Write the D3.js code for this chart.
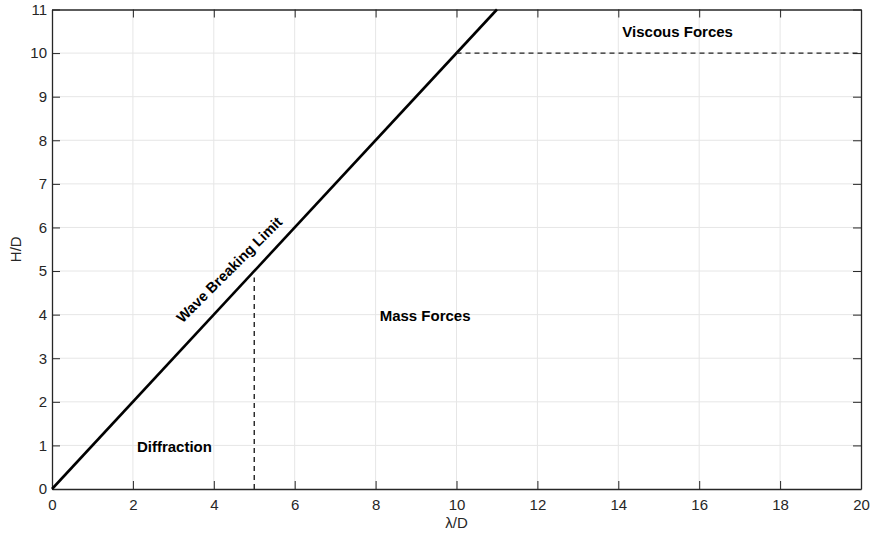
<!DOCTYPE html>
<html>
<head>
<meta charset="utf-8">
<script src="https://cdn.jsdelivr.net/npm/d3@7"></script>
<style>
  body { margin: 0; background: #fff; }
  svg { font-family: "Liberation Sans", Arial, sans-serif; }
</style>
</head>
<body>
<svg width="870" height="536"></svg>
<script>
// regions of wave force regimes (H/D vs lambda/D)
const breakingLine = [[0, 0], [11, 11]];
const diffractionLimit = [[5, 0], [5, 4.85]];
const viscousLimit = [[10, 10], [20, 10]];
const xTicks = [0, 2, 4, 6, 8, 10, 12, 14, 16, 18, 20];
const yTicks = [0, 1, 2, 3, 4, 5, 6, 7, 8, 9, 10, 11];
const regionLabels = [
  { text: "Viscous Forces", x: 14.1, y: 10.48 },
  { text: "Mass Forces", x: 8.1, y: 3.97 },
  { text: "Diffraction", x: 2.1, y: 0.98 }
];
const lineLabel = { text: "Wave Breaking Limit", x: 4.47, y: 4.95 };

const svg = d3.select("svg");
const margin = { left: 52, right: 9, top: 9.5, bottom: 47 };
const width = 870 - margin.left - margin.right,
  height = 536 - margin.top - margin.bottom;
const axisColor = "#262626";

const x = d3.scaleLinear().domain([0, 20]).range([0, width]);
const y = d3.scaleLinear().domain([0, 11]).range([height, 0]);

const g = svg.append("g").attr("transform", `translate(${margin.left},${margin.top})`);

// grid
g.append("g").selectAll("line").data(xTicks.slice(1, -1)).enter().append("line")
  .attr("x1", d => x(d)).attr("x2", d => x(d))
  .attr("y1", 0).attr("y2", height)
  .attr("stroke", "#e6e6e6").attr("stroke-width", 1);
g.append("g").selectAll("line").data(yTicks.slice(1, -1)).enter().append("line")
  .attr("y1", d => y(d)).attr("y2", d => y(d))
  .attr("x1", 0).attr("x2", width)
  .attr("stroke", "#e6e6e6").attr("stroke-width", 1);

// axes, ticks inside on all four sides
function styleAxis(sel) {
  sel.selectAll("path").attr("stroke", axisColor);
  sel.selectAll("line").attr("stroke", axisColor);
  sel.selectAll("text").attr("fill", axisColor).attr("font-size", 15);
}
g.append("g").attr("transform", `translate(0,${height})`)
  .call(d3.axisBottom(x).tickValues(xTicks).tickSizeInner(-8).tickSizeOuter(0).tickPadding(10))
  .call(styleAxis);
g.append("g")
  .call(d3.axisLeft(y).tickValues(yTicks).tickSizeInner(-8).tickSizeOuter(0).tickPadding(5))
  .call(styleAxis);
g.append("g")
  .call(d3.axisTop(x).tickValues(xTicks).tickSizeInner(-8).tickSizeOuter(0).tickFormat(""))
  .call(styleAxis);
g.append("g").attr("transform", `translate(${width},0)`)
  .call(d3.axisRight(y).tickValues(yTicks).tickSizeInner(-8).tickSizeOuter(0).tickFormat(""))
  .call(styleAxis);
g.selectAll(".domain").attr("stroke-width", 1.3);

const line = d3.line().x(d => x(d[0])).y(d => y(d[1]));

g.append("path").datum(breakingLine).attr("d", line)
  .attr("fill", "none").attr("stroke", "#000").attr("stroke-width", 2.6);

[diffractionLimit, viscousLimit].forEach(seg => {
  g.append("path").datum(seg).attr("d", line)
    .attr("fill", "none").attr("stroke", "#222").attr("stroke-width", 1.4)
    .attr("stroke-dasharray", "5,4");
});

g.selectAll(".region").data(regionLabels).enter().append("text")
  .attr("x", d => x(d.x)).attr("y", d => y(d.y))
  .attr("dy", "0.35em")
  .attr("font-size", 15).attr("font-weight", "bold").attr("fill", "#000")
  .text(d => d.text);

g.append("text")
  .attr("transform", `translate(${x(lineLabel.x)},${y(lineLabel.y)}) rotate(-45)`)
  .attr("text-anchor", "middle")
  .attr("font-size", 14.5).attr("font-weight", "bold").attr("fill", "#000")
  .text(lineLabel.text);

// axis labels
svg.append("text")
  .attr("x", margin.left + width / 2).attr("y", 528)
  .attr("text-anchor", "middle").attr("font-size", 15).attr("fill", axisColor)
  .text("λ/D");
svg.append("text")
  .attr("transform", `translate(21,${margin.top + height / 2}) rotate(-90)`)
  .attr("text-anchor", "middle").attr("font-size", 15).attr("fill", axisColor)
  .text("H/D");
</script>
</body>
</html>
